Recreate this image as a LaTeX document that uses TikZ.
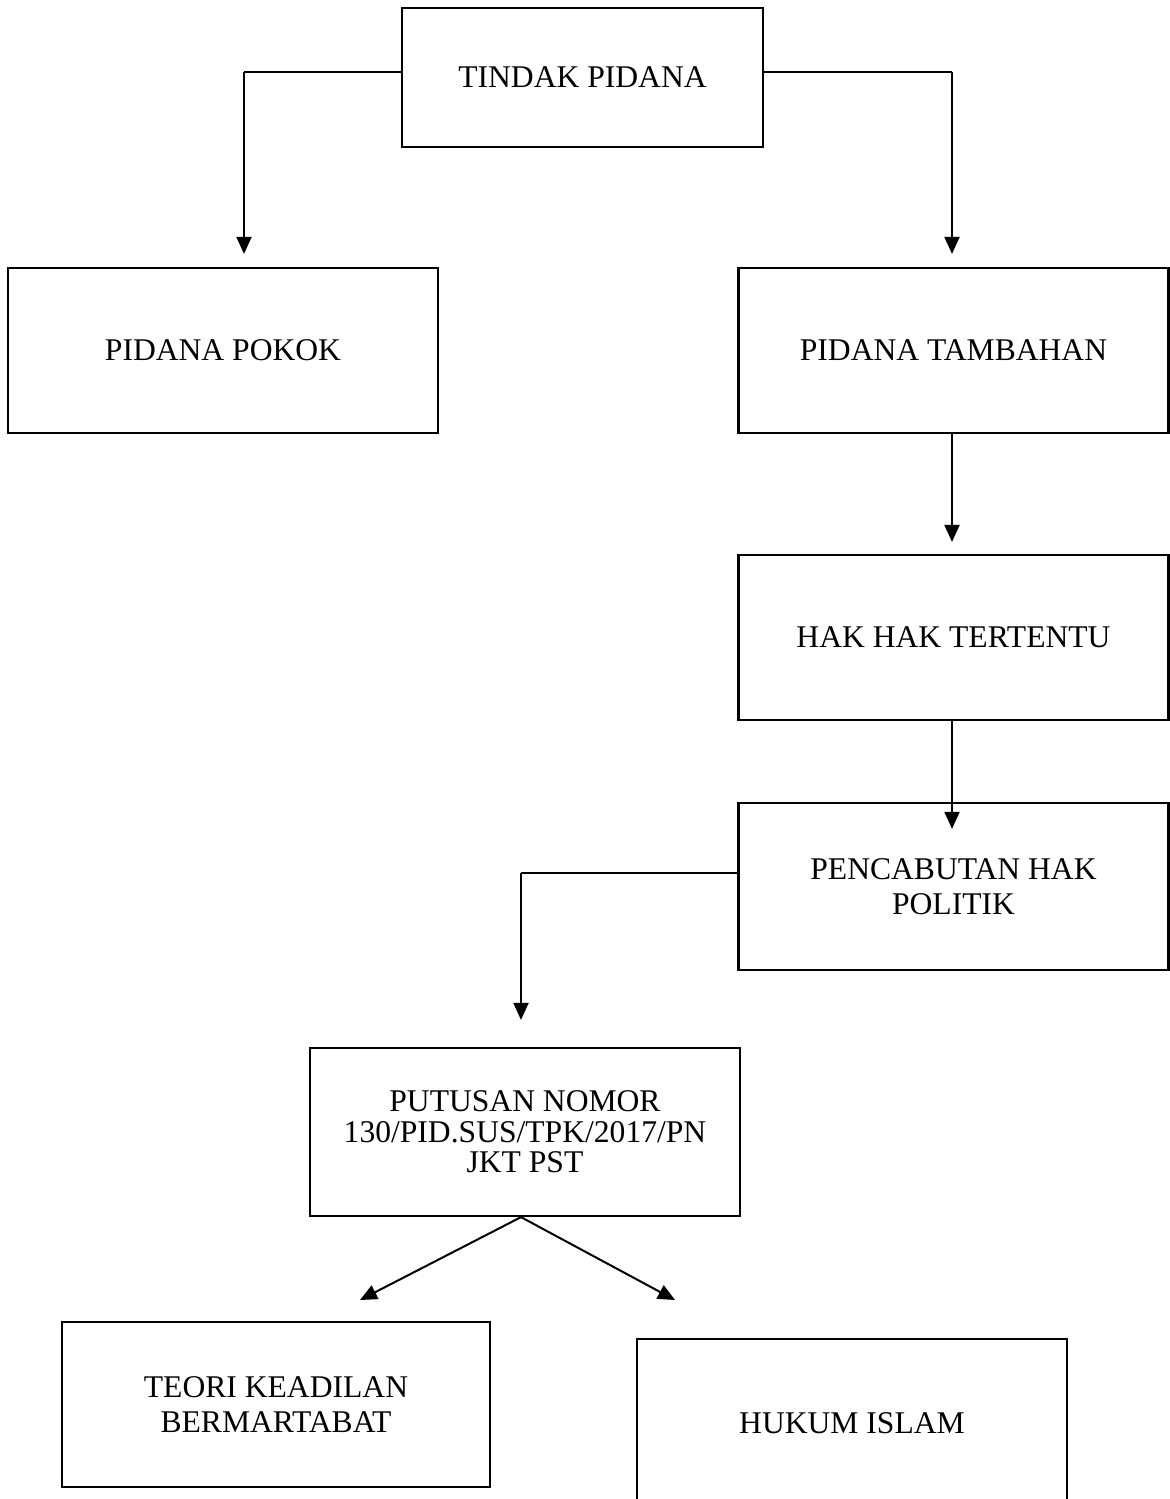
\documentclass[tikz,border=0pt]{standalone}
\usepackage{fontspec}
\setmainfont{Liberation Serif}
\usetikzlibrary{arrows.meta}

\begin{document}
\begin{tikzpicture}[x=0.5pt, y=-0.5pt, >={Triangle[width=7.5pt,length=8.5pt]},
	kotak/.style={draw, line width=1.1pt, minimum width=215pt, minimum height=82.5pt, align=center, inner sep=0pt, font=\fontsize{15.8}{17.5}\selectfont},
	garis/.style={line width=0.55pt},
	panah/.style={->, line width=1pt}]
	\useasboundingbox (0,0) rectangle (1170,1499);
	% kotak-kotak
	\node[kotak, minimum width=180.5pt, minimum height=69.5pt] (tindak) at (582.5,77.5) {TINDAK PIDANA};
	\node[kotak] (pokok) at (223,350.5) {PIDANA POKOK};
	\node[kotak] (tambahan) at (953.5,350.5) {PIDANA TAMBAHAN};
	\node[kotak] (hak) at (953.5,637.5) {HAK HAK TERTENTU};
	\node[kotak, minimum height=83.5pt] (cabut) at (953.5,886.5) {PENCABUTAN HAK\\POLITIK};
	\node[kotak, minimum height=84pt, font=\fontsize{15.8}{15.3}\selectfont] (putusan) at (525,1132) {PUTUSAN NOMOR\\130/PID.SUS/TPK/2017/PN\\JKT PST};
	\node[kotak, minimum width=214pt] (teori) at (276,1404.5) {TEORI KEADILAN\\BERMARTABAT};
	\node[kotak, minimum height=84pt] (hukum) at (852,1423) {HUKUM ISLAM};
	% titik belok
	\coordinate (kiri) at (244,72);
	\coordinate (kanan) at (952,72);
	\coordinate (belok) at (521,873);
	\coordinate (bawahkiri) at (360,1300);
	\coordinate (bawahkanan) at (675,1300);
	% panah
	\draw[garis] (tindak.west |- kiri) -- (kiri);
	\draw[panah, shorten >=6.5pt] (kiri) -- (kiri |- pokok.north);
	\draw[garis] (tindak.east |- kanan) -- (kanan);
	\draw[panah, shorten >=6.5pt] (kanan) -- (kanan |- tambahan.north);
	\draw[panah, shorten >=6pt] (kanan |- tambahan.south) -- (kanan |- hak.north);
	\draw[panah, shorten >=-13.5pt] (kanan |- hak.south) -- (kanan |- cabut.north);
	\draw[garis] (cabut.west |- belok) -- (belok);
	\draw[panah, shorten >=13.5pt] (belok) -- (belok |- putusan.north);
	\draw[panah] (belok |- putusan.south) -- (bawahkiri);
	\draw[panah] (belok |- putusan.south) -- (bawahkanan);
\end{tikzpicture}
\end{document}
